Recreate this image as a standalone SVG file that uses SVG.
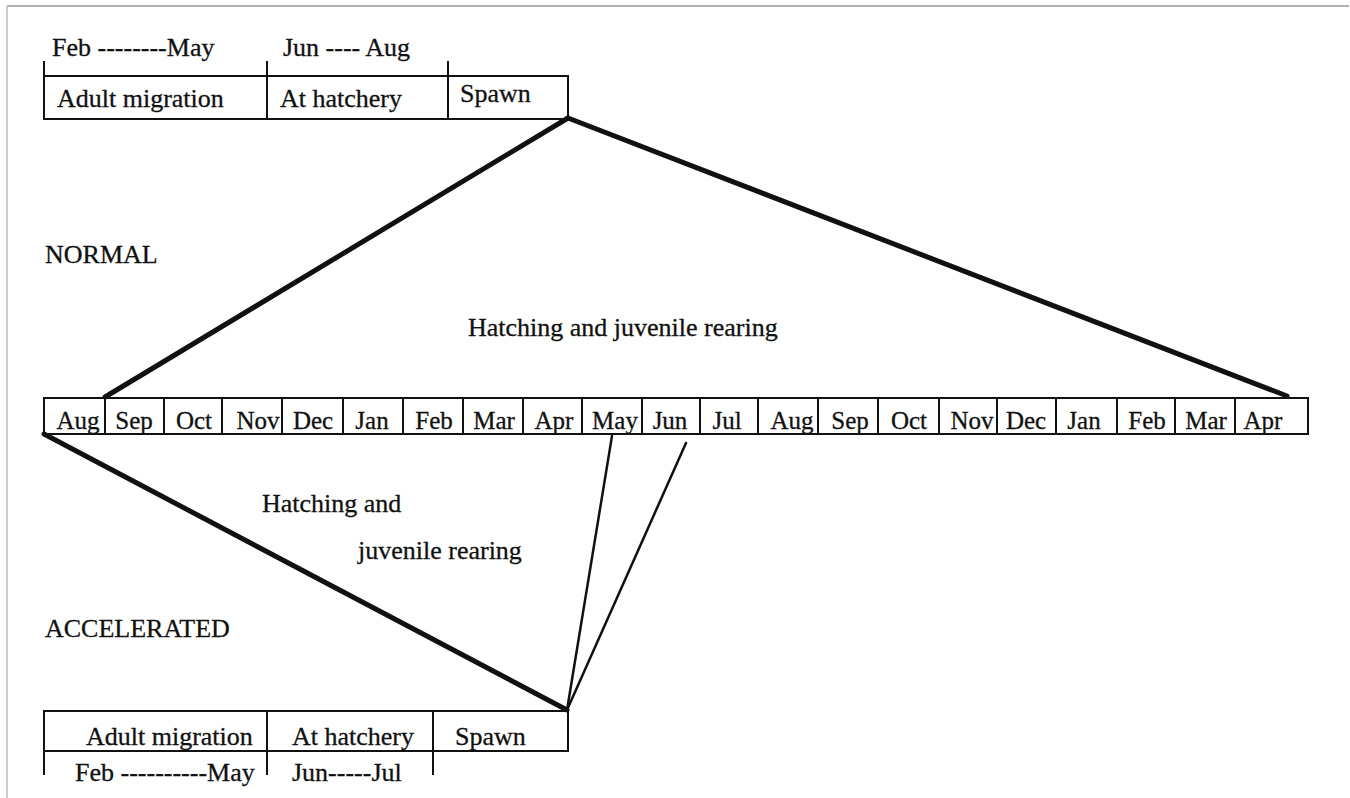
<svg xmlns="http://www.w3.org/2000/svg" width="1350" height="798" viewBox="0 0 1350 798">
<style>
.t{font-family:"Liberation Serif","Times New Roman",serif;font-size:26px;fill:#111;stroke:#111;stroke-width:0.3}
.m{font-family:"Liberation Serif","Times New Roman",serif;font-size:25px;fill:#111;stroke:#111;stroke-width:0.3;text-anchor:middle}
.box{fill:none;stroke:#111;stroke-width:2}
.ln{stroke:#111;stroke-width:2}
.thick{stroke:#111;stroke-width:5;stroke-linecap:round}
.thin{stroke:#111;stroke-width:2.5;stroke-linecap:round}
</style>
<rect x="0" y="0" width="1350" height="798" fill="#fff"/>
<g id="frame">
<line x1="7" y1="6" x2="1349" y2="6" stroke="#999" stroke-width="1.5"/>
<line x1="7" y1="6" x2="7" y2="798" stroke="#bbb" stroke-width="1.5"/>
</g>
<g id="normal-schedule">
<line class="ln" x1="44" y1="61" x2="44" y2="76"/>
<line class="ln" x1="267" y1="61" x2="267" y2="76"/>
<line class="ln" x1="448" y1="61" x2="448" y2="76"/>
<rect class="box" x="44" y="76" width="524" height="43"/>
<line class="ln" x1="267" y1="76" x2="267" y2="119"/>
<line class="ln" x1="448" y1="76" x2="448" y2="119"/>
<text class="t" x="52" y="56">Feb --------May</text>
<text class="t" x="283" y="56">Jun ---- Aug</text>
<text class="t" x="57" y="107">Adult migration</text>
<text class="t" x="280" y="107">At hatchery</text>
<text class="t" x="460" y="102">Spawn</text>
</g>
<g id="month-row">
<rect class="box" x="44" y="398" width="1264" height="36"/>
<path class="ln" fill="none" d="M105 398V434M164 398V434M222 398V434M282 398V434M343 398V434M403 398V434M463 398V434M523 398V434M582 398V434M642 398V434M700 398V434M758 398V434M818 398V434M878 398V434M939 398V434M997 398V434M1056 398V434M1117 398V434M1175 398V434M1235 398V434"/>
<text class="m" x="78" y="429">Aug</text>
<text class="m" x="134" y="429">Sep</text>
<text class="m" x="194" y="429">Oct</text>
<text class="m" x="258" y="429">Nov</text>
<text class="m" x="313" y="429">Dec</text>
<text class="m" x="372" y="429">Jan</text>
<text class="m" x="434" y="429">Feb</text>
<text class="m" x="494" y="429">Mar</text>
<text class="m" x="554" y="429">Apr</text>
<text class="m" x="615" y="429">May</text>
<text class="m" x="670" y="429">Jun</text>
<text class="m" x="727" y="429">Jul</text>
<text class="m" x="792" y="429">Aug</text>
<text class="m" x="850" y="429">Sep</text>
<text class="m" x="909" y="429">Oct</text>
<text class="m" x="972" y="429">Nov</text>
<text class="m" x="1026" y="429">Dec</text>
<text class="m" x="1084" y="429">Jan</text>
<text class="m" x="1147" y="429">Feb</text>
<text class="m" x="1206" y="429">Mar</text>
<text class="m" x="1263" y="429">Apr</text>
</g>
<g id="labels">
<text class="t" x="45" y="263">NORMAL</text>
<text class="t" x="468" y="336">Hatching and juvenile rearing</text>
<text class="t" x="262" y="512">Hatching and</text>
<text class="t" x="358" y="559">juvenile rearing</text>
<text class="t" x="45" y="637">ACCELERATED</text>
</g>
<g id="connectors">
<line class="thick" x1="568" y1="118" x2="105" y2="397"/>
<line class="thick" x1="568" y1="118" x2="1287" y2="396"/>
<line class="thick" x1="44" y1="434" x2="567" y2="710"/>
<line class="thin" x1="612" y1="436" x2="567" y2="710"/>
<line class="thin" x1="686" y1="443" x2="567" y2="710"/>
</g>
<g id="accelerated-schedule">
<rect class="box" x="44" y="711" width="524" height="40"/>
<line class="ln" x1="267" y1="711" x2="267" y2="775"/>
<line class="ln" x1="433" y1="711" x2="433" y2="775"/>
<line class="ln" x1="44" y1="751" x2="44" y2="775"/>
<text class="t" x="86" y="745">Adult migration</text>
<text class="t" x="292" y="745">At hatchery</text>
<text class="t" x="455" y="745">Spawn</text>
<text class="t" x="75" y="781">Feb ----------May</text>
<text class="t" x="292" y="781">Jun-----Jul</text>
</g>
</svg>
